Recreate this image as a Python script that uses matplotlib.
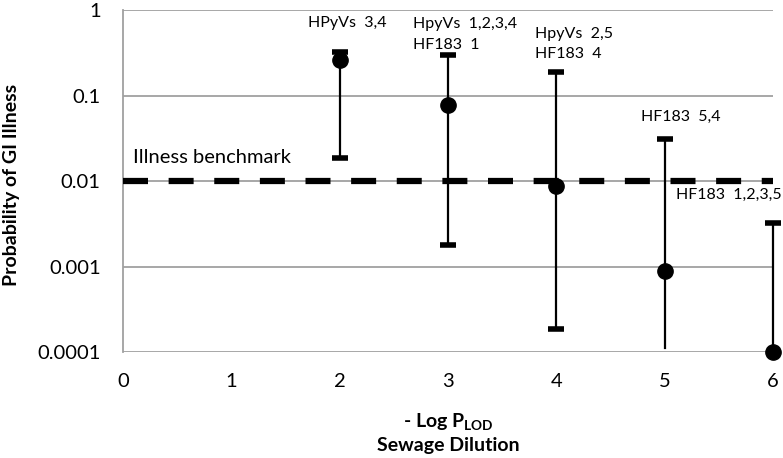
import numpy as np
import matplotlib
matplotlib.use("Agg")
import matplotlib.pyplot as plt

plt.rcParams['font.family'] = ['Lato', 'DejaVu Sans']
plt.rcParams['mathtext.default'] = 'regular'

# data
dilution = [2, 3, 4, 5, 6]
prob = [0.26, 0.077, 0.0088, 0.00089, 0.0001]
upper = [0.32, 0.30, 0.19, 0.031, 0.0032]
lower = [0.0186, 0.0018, 0.000186, 0.000112, 0.0001]
lower_cap = [True, True, True, False, False]
benchmark = 0.01

label_text = ["HPyVs  3,4", "HpyVs  1,2,3,4\nHF183  1", "HpyVs  2,5\nHF183  4",
              "HF183  5,4", "HF183  1,2,3,5"]
label_x = [2.07, 2.68, 3.80, 4.78, 5.11]
label_y = [0.70, 0.52, 0.40, 0.056, 0.0069]
label_ha = ["center", "left", "left", "left", "left"]

fig = plt.figure(figsize=(7.83, 4.58), dpi=100)
ax = fig.add_axes([0.157, 0.231, 0.83, 0.747])

ax.set_yscale("log")
ax.set_xlim(0, 6)
ax.set_ylim(0.0001, 1)
ax.set_yticks([0.0001, 0.001, 0.01, 0.1, 1])
ax.set_yticklabels(["0.0001", "0.001", "0.01", "0.1", "1"])
ax.minorticks_off()
ax.set_xticks(range(7))
ax.tick_params(length=0, labelsize=14.5)
ax.tick_params(axis="y", pad=16)
ax.tick_params(axis="x", pad=15)
ax.grid(axis="y", color="#a0a0a0", lw=1.3)
ax.set_axisbelow(True)
for s in ["top", "right", "bottom"]:
    ax.spines[s].set_visible(False)
ax.spines["left"].set_color("#a0a0a0")
ax.spines["left"].set_linewidth(1.3)

ax.axhline(benchmark, color="black", lw=4.5, dashes=(4, 3.3), zorder=3)
ax.text(0.09, 0.019, "Illness benchmark", fontsize=14.5, va="center", ha="left")

for x, p, hi, lo, cap in zip(dilution, prob, upper, lower, lower_cap):
    ax.plot([x, x], [lo, hi], color="black", lw=1.6, zorder=4, clip_on=False)
    ax.plot([x], [hi], marker="_", ms=11, mew=4, color="black", zorder=4, clip_on=False)
    if cap:
        ax.plot([x], [lo], marker="_", ms=11, mew=4, color="black", zorder=4, clip_on=False)
ax.plot(dilution, prob, "o", color="black", ms=11, zorder=5, clip_on=False)

for t, x, y, ha in zip(label_text, label_x, label_y, label_ha):
    ax.text(x, y, t, fontsize=11.5, ha=ha, va="center", linespacing=1.6, clip_on=False)

ax.set_ylabel("Probability of GI Illness", fontsize=14, fontweight="bold")
ax.yaxis.set_label_coords(-0.158, 0.49)
ax.set_xlabel("- Log P$_{LOD}$\nSewage Dilution", fontsize=14, fontweight="bold",
              labelpad=15, linespacing=1.35)

fig.savefig("out.png", dpi=100)
